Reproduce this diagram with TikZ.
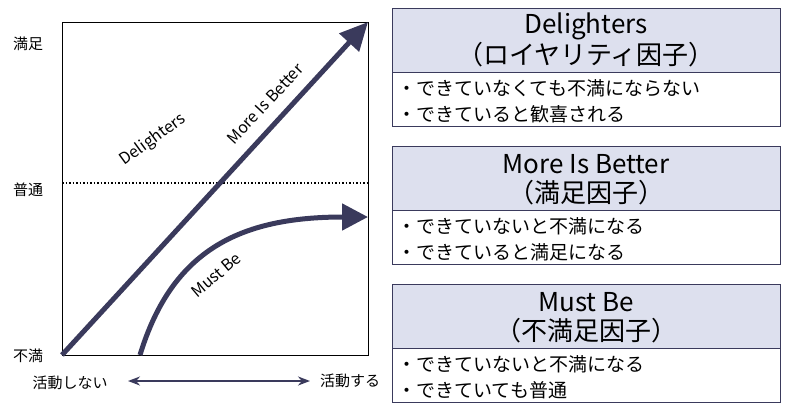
\documentclass[tikz,border=0pt]{standalone}
\usepackage{fontspec}
\setmainfont{Noto Sans CJK JP}
\usepackage{tikz}
\usetikzlibrary{positioning,arrows.meta}
\definecolor{navy}{HTML}{3A3A5C}
\definecolor{head}{HTML}{DDE0EE}
\tikzset{
  lbl/.style={font=\fontsize{15}{17}\selectfont},
  curvelbl/.style={font=\fontsize{16}{18}\selectfont},
  boxhead/.style={fill=head,draw=navy,line width=1pt},
  boxbody/.style={draw=navy,line width=1pt,fill=white},
  title/.style={font=\fontsize{26}{30}\selectfont},
  item/.style={anchor=west,font=\fontsize{19}{22}\selectfont}
}
\begin{document}
\begin{tikzpicture}[x=1pt,y=-1pt,>=Stealth]
    \useasboundingbox (0,0) rectangle (800,407);
    % chart frame
    \draw[line width=1pt] (62,22) rectangle (368,355);
    \draw[line width=1.5pt,dotted] (62,183) -- (368,183);
    \node[lbl] (yhi) at (28,44) {満足};
    \node[lbl] (ymid) at (28,190) {普通};
    \node[lbl] (ylo) at (28,356) {不満};
    \node[lbl] (xlo) at (70,383) {活動しない};
    \node[lbl] (xhi) at (350,381) {活動する};
    \coordinate (xa) at (128,381);
    \coordinate (xb) at (310,381);
    \draw[<->,line width=2pt,navy] (xa) -- (xb);
    % curves
    \coordinate (o) at (62,355);
    \coordinate (tr) at (368,22);
    \draw[-{Triangle[length=28pt,width=26pt]},line width=5pt,navy] (o) -- (tr);
    \coordinate (m0) at (140,355);
    \coordinate (m1) at (368,217);
    \draw[-{Triangle[length=26pt,width=26pt]},line width=5pt,navy] (m0) .. controls (172,250) and (240,217) .. (m1);
    \node[curvelbl,rotate=47] (mib) at (265,104) {More Is Better};
    \node[curvelbl,rotate=36] (del) at (153,140) {Delighters};
    \node[curvelbl,rotate=40] (mb) at (216,275) {Must Be};
    % boxes
    \foreach \t/\h/\s/\a/\b [count=\i] in {8/Delighters/（ロイヤリティ因子）/できていなくても不満にならない/できていると歓喜される,
        146/More Is Better/（満足因子）/できていないと不満になる/できていると満足になる,
        284/Must Be/（不満足因子）/できていないと不満になる/できていても普通}{
      \draw[boxbody] (392,\t) rectangle (780,\t+118);
      \draw[boxhead] (392,\t) rectangle (780,\t+64);
      \node[title] (h\i) at (586,\t+18) {\h};
      \node[title] (s\i) at (586,\t+47) {\s};
      \node[item] (a\i) at (394,\t+80) {・\a};
      \node[item] (b\i) at (394,\t+106) {・\b};
    }
\end{tikzpicture}
\end{document}
